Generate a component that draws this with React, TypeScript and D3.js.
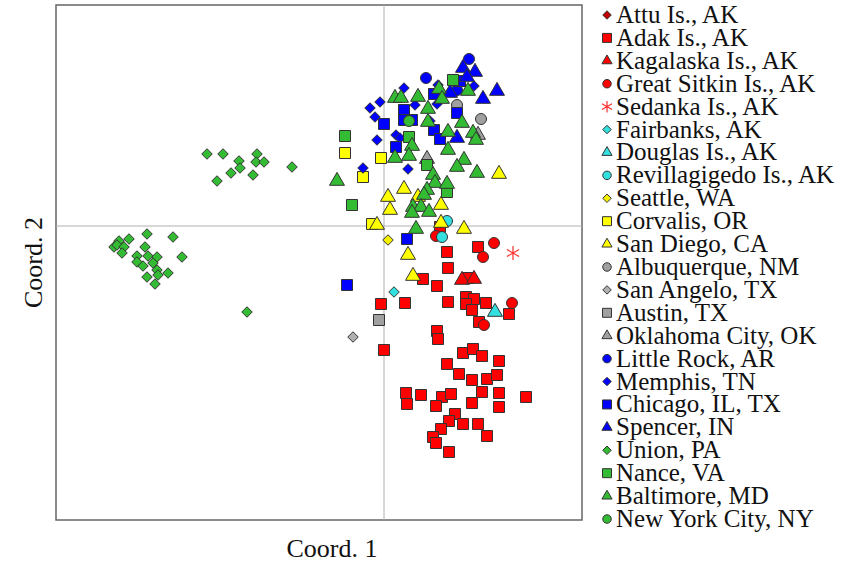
import React, { useRef, useEffect } from "react";
import * as d3 from "d3";

// PCoA scores (arbitrary units)
const attu: number[][] = [];
const adak = [
  [0.056, -0.001], [0.063, -0.026], [0.094, -0.021], [0.064, -0.042], [0.039, -0.053],
  [0.084, -0.052], [0.053, -0.06], [-0.003, -0.078], [0.021, -0.077], [0.064, -0.076],
  [0.082, -0.071], [0.09, -0.073], [0.082, -0.078], [0.088, -0.084], [0.102, -0.077],
  [0.125, -0.088], [0.095, -0.096], [0.053, -0.105], [0.054, -0.113], [0.0, -0.124],
  [0.079, -0.127], [0.089, -0.123], [0.098, -0.13], [0.115, -0.135], [0.063, -0.138],
  [0.075, -0.148], [0.088, -0.154], [0.103, -0.153], [0.113, -0.149], [0.022, -0.167],
  [0.037, -0.169], [0.058, -0.171], [0.067, -0.168], [0.098, -0.166], [0.115, -0.167],
  [0.142, -0.171], [0.023, -0.178], [0.052, -0.18], [0.088, -0.177], [0.115, -0.181],
  [0.071, -0.188], [0.065, -0.195], [0.079, -0.198], [0.094, -0.198], [0.057, -0.203],
  [0.103, -0.21], [0.049, -0.211], [0.052, -0.217], [0.065, -0.226],
];
const kagalaska = [[0.078, -0.054], [0.09, -0.053]];
const greatSitkin = [[0.052, -0.01], [0.11, -0.017], [0.099, -0.031], [0.128, -0.077], [0.1, -0.099]];
const sedanka = [[0.129, -0.027]];
const fairbanks = [[0.01, -0.066]];
const douglas = [[0.111, -0.086]];
const revillagigedo = [[0.063, 0.005], [0.058, -0.011]];
const seattle = [[0.004, -0.014]];
const corvalis = [[-0.039, 0.073], [-0.003, 0.068], [-0.021, 0.049], [-0.012, 0.002]];
const sanDiego = [
  [0.115, 0.052], [0.02, 0.037], [0.004, 0.029], [0.034, 0.029], [0.006, 0.016], [0.057, 0.021],
  [-0.007, 0.001], [0.057, 0.003], [0.08, -0.003], [0.024, -0.029], [0.029, -0.05],
];
const albuquerque = [[0.073, 0.121], [0.097, 0.107]];
const sanAngelo = [[-0.031, -0.111]];
const austin = [[-0.005, -0.094]];
const oklahoma = [[0.094, 0.091], [0.043, 0.067]];
const littleRock = [[0.085, 0.167], [0.042, 0.148], [0.073, 0.136]];
const memphis = [
  [0.02, 0.138], [0.054, 0.141], [0.09, 0.14], [-0.004, 0.124], [-0.014, 0.118], [0.031, 0.121],
  [0.053, 0.122], [-0.009, 0.109], [0.046, 0.105], [0.012, 0.091], [0.016, 0.088], [-0.007, 0.086],
  [-0.021, 0.058], [0.024, 0.057],
];
const chicago = [
  [0.05, 0.132], [0.076, 0.145], [0.02, 0.116], [0.073, 0.113], [0.0, 0.102], [0.02, 0.106],
  [0.028, 0.106], [0.05, 0.096], [0.056, 0.087], [0.012, 0.079], [0.023, -0.013], [-0.037, -0.059],
];
const spencer = [[0.079, 0.158], [0.091, 0.154], [0.083, 0.149], [0.113, 0.135], [0.099, 0.127], [0.066, 0.133], [0.073, 0.088]];
const union = [
  [-0.177, 0.072], [-0.161, 0.072], [-0.145, 0.065], [-0.127, 0.072], [-0.128, 0.064], [-0.12, 0.064],
  [-0.144, 0.058], [-0.153, 0.053], [-0.131, 0.051], [-0.167, 0.045], [-0.092, 0.059],
  [-0.237, -0.008], [-0.211, -0.011], [-0.265, -0.015], [-0.255, -0.013], [-0.27, -0.021], [-0.267, -0.019],
  [-0.26, -0.021], [-0.262, -0.027], [-0.239, -0.021], [-0.202, -0.031], [-0.247, -0.03], [-0.236, -0.03],
  [-0.227, -0.031], [-0.247, -0.036], [-0.241, -0.04], [-0.231, -0.037], [-0.227, -0.044], [-0.216, -0.047],
  [-0.226, -0.049], [-0.237, -0.051], [-0.229, -0.058], [-0.137, -0.086],
];
const nance = [[0.069, 0.146], [-0.039, 0.09], [0.025, 0.089], [0.043, 0.061], [0.063, 0.034], [-0.032, 0.021]];
const baltimore = [
  [0.011, 0.128], [0.017, 0.128], [0.034, 0.129], [0.055, 0.137], [0.058, 0.127], [0.084, 0.135],
  [0.044, 0.117], [0.044, 0.104], [0.078, 0.103], [0.064, 0.094], [0.089, 0.093], [0.092, 0.086],
  [0.028, 0.08], [0.064, 0.076], [0.011, 0.068], [0.025, 0.07], [0.08, 0.066], [0.073, 0.059],
  [0.093, 0.053], [-0.047, 0.045], [0.049, 0.051], [0.051, 0.043], [0.063, 0.042], [0.043, 0.036],
  [0.04, 0.031], [0.029, 0.019], [0.037, 0.019], [0.028, 0.013], [0.045, 0.014], [0.032, -0.003],
];
const newYork = [[0.025, 0.105]];

const labels = [
  "Attu Is., AK", "Adak Is., AK", "Kagalaska Is., AK", "Great Sitkin Is., AK", "Sedanka Is., AK",
  "Fairbanks, AK", "Douglas Is., AK", "Revillagigedo Is., AK", "Seattle, WA", "Corvalis, OR",
  "San Diego, CA", "Albuquerque, NM", "San Angelo, TX", "Austin, TX", "Oklahoma City, OK",
  "Little Rock, AR", "Memphis, TN", "Chicago, IL, TX", "Spencer, IN", "Union, PA", "Nance, VA",
  "Baltimore, MD", "New York City, NY",
];
const shapes = [
  "diamond", "square", "triangle", "circle", "star", "diamond", "triangle", "circle", "diamond", "square",
  "triangle", "circle", "diamond", "square", "triangle", "circle", "diamond", "square", "triangle",
  "diamond", "square", "triangle", "circle",
];
const colors = [
  "#c00000", "#ff0000", "#ff0000", "#ff0000", "#ff3030", "#33e0e0", "#33e0e0", "#33e0e0", "#f5f000",
  "#ffff00", "#ffff00", "#a0a0a0", "#b0b0b0", "#a0a0a0", "#a0a0a0", "#0000ff", "#0000ff", "#0000ff",
  "#0000ff", "#33bb33", "#33bb33", "#33bb33", "#33bb33",
];
const series = [
  attu, adak, kagalaska, greatSitkin, sedanka, fairbanks, douglas, revillagigedo, seattle, corvalis,
  sanDiego, albuquerque, sanAngelo, austin, oklahoma, littleRock, memphis, chicago, spencer, union,
  nance, baltimore, newYork,
];

const W = 859, H = 566;
const FONT = "Liberation Serif, Times New Roman, serif";

function markerPath(shape: string, s: number) {
  if (shape === "square") return d3.symbol(d3.symbolSquare, s * s)();
  if (shape === "circle") return d3.symbol(d3.symbolCircle, Math.PI * (s / 2) * (s / 2))();
  if (shape === "triangle") return d3.symbol(d3.symbolTriangle, s * s * 0.62)();
  if (shape === "diamond") {
    const r = s / 2;
    return `M0,${-r}L${r},0L0,${r}L${-r},0Z`;
  }
  const r = s / 2;
  return `M0,${-r}V${r}M${-r * 0.87},${-r * 0.5}L${r * 0.87},${r * 0.5}M${-r * 0.87},${r * 0.5}L${r * 0.87},${-r * 0.5}`;
}

function drawMarker(g: any, shape: string, color: string, x: number, y: number, s: number) {
  const star = shape === "star";
  const p = g.append("path").attr("d", markerPath(shape, star ? s + 3 : s)).attr("transform", `translate(${x},${y})`);
  if (star) p.attr("fill", "none").attr("stroke", color).attr("stroke-width", 1.2);
  else p.attr("fill", color).attr("stroke", "#333").attr("stroke-width", 1);
}

const App = () => {
  const ref = useRef<SVGSVGElement>(null);
  useEffect(() => {
    const svg = d3.select(ref.current);
    svg.selectAll("*").remove();
    const left = 56, right = 582, top = 5, bottom = 520;
    const x = d3.scaleLinear().domain([-0.328, 0.198]).range([left, right]);
    const y = d3.scaleLinear().domain([-0.294, 0.221]).range([bottom, top]);

    svg.append("rect").attr("x", left).attr("y", top).attr("width", right - left).attr("height", bottom - top)
      .attr("fill", "white").attr("stroke", "#666").attr("stroke-width", 1.5);
    svg.append("line").attr("x1", x(0)).attr("x2", x(0)).attr("y1", top).attr("y2", bottom)
      .attr("stroke", "#b0b0b0").attr("stroke-width", 1);
    svg.append("line").attr("x1", left).attr("x2", right).attr("y1", y(0)).attr("y2", y(0))
      .attr("stroke", "#b0b0b0").attr("stroke-width", 1);

    const pts = svg.append("g");
    series.forEach((data, i) => {
      const size = shapes[i] === "diamond" ? 10.5 : shapes[i] === "triangle" ? 12.5 : 11;
      data.forEach((d) => drawMarker(pts, shapes[i], colors[i], x(d[0]), y(d[1]), size));
    });

    svg.append("text").attr("x", 332).attr("y", 557).attr("text-anchor", "middle")
      .attr("font-family", FONT).attr("font-size", 26).attr("fill", "#111")
      .text("Coord. 1");
    svg.append("text").attr("transform", `translate(42,${(top + bottom) / 2}) rotate(-90)`).attr("text-anchor", "middle")
      .attr("font-family", FONT).attr("font-size", 26).attr("fill", "#111")
      .text("Coord. 2");

    const leg = svg.append("g");
    const ly = d3.scalePoint().domain(labels).range([15, 519]);
    labels.forEach((lab, i) => {
      const cy = ly(lab) as number;
      drawMarker(leg, shapes[i], colors[i], 607, cy, shapes[i] === "square" ? 9 : 8.5);
      leg.append("text").attr("x", 616).attr("y", cy + 8).attr("font-family", FONT)
        .attr("font-size", 25).attr("textLength", null).attr("fill", "#111").text(lab);
    });
  }, []);
  return <svg ref={ref} width={W} height={H} style={{ position: "absolute", left: 0, top: 0, background: "white" }} />;
};

export default App;
